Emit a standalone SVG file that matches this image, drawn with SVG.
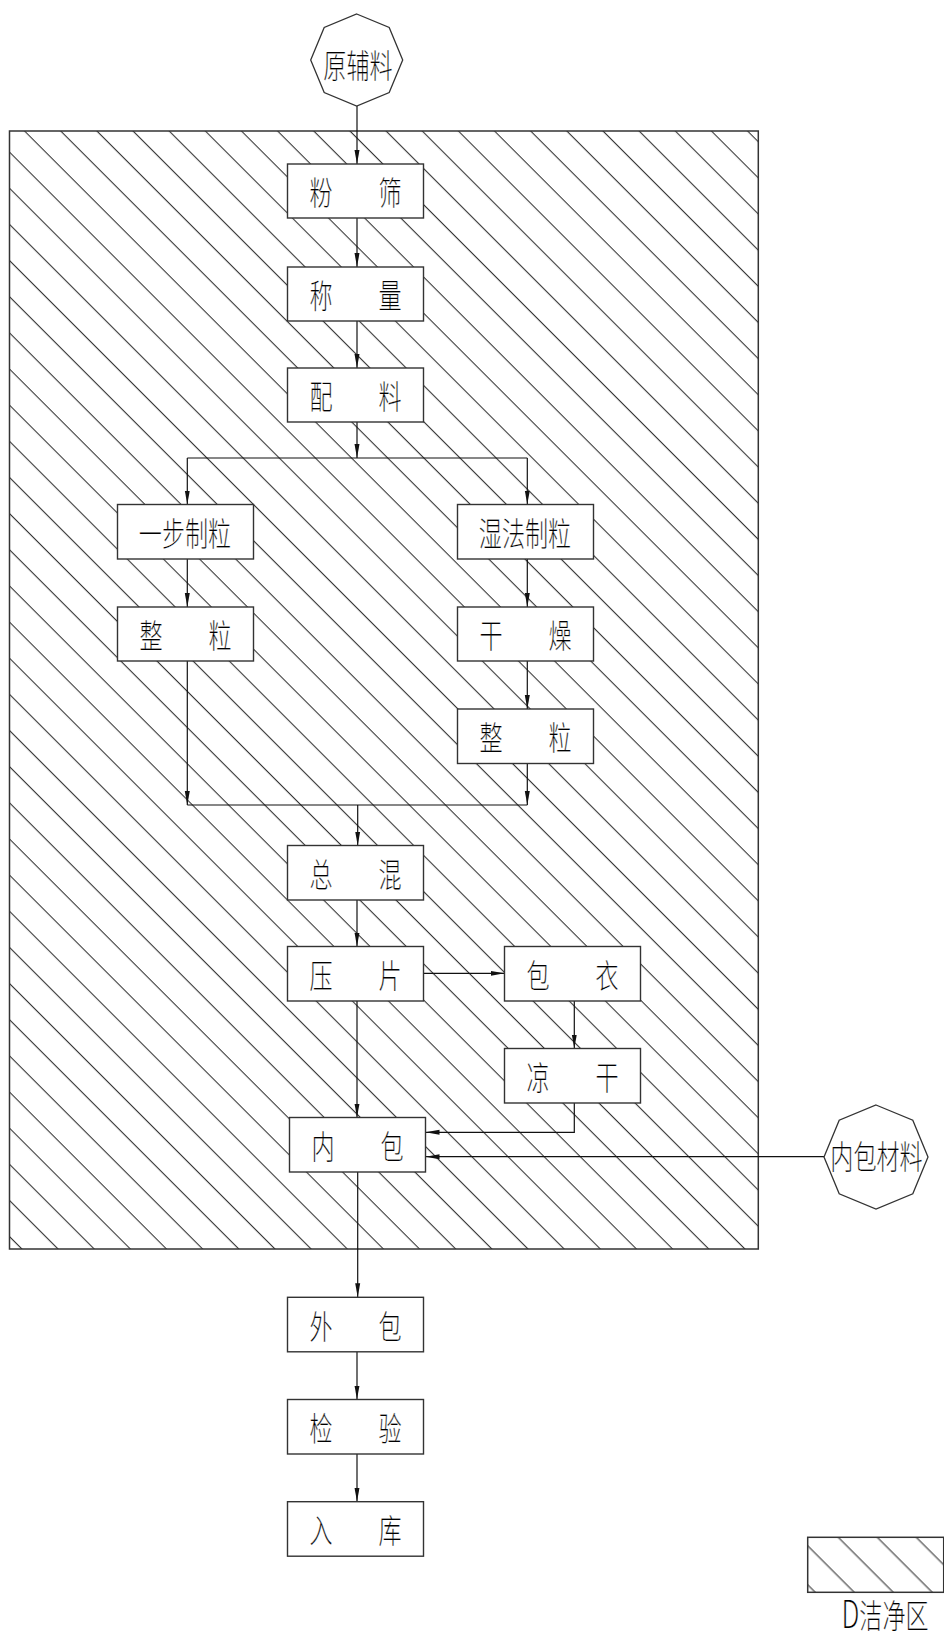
<svg xmlns="http://www.w3.org/2000/svg" width="944" height="1636" viewBox="0 0 944 1636">
<style>
.box{fill:#fff;stroke:#333;stroke-width:1.4}
.oct{fill:#fff;stroke:#333;stroke-width:1.3}
.area{stroke:#333;stroke-width:1.5}
.c{fill:none;stroke:#111;stroke-width:1.2}
.t{font-family:"Noto Sans CJK SC","Noto Sans CJK JP",sans-serif;font-size:33px;font-weight:300;fill:#000;stroke:#fff;stroke-width:0.25;text-anchor:middle}
</style>
<defs>
<pattern id="hatch" patternUnits="userSpaceOnUse" width="25.562" height="20" patternTransform="rotate(-45)">
<rect x="0.88" y="0" width="1" height="20" fill="#222"/>
</pattern>
<pattern id="hatch2" patternUnits="userSpaceOnUse" width="27.58" height="20" patternTransform="rotate(-45)">
<rect x="1.62" y="0" width="1" height="20" fill="#222"/>
</pattern>
<marker id="arr" markerUnits="userSpaceOnUse" markerWidth="15" markerHeight="7" refX="14" refY="3" orient="auto">
<path d="M0,0.5 L14,3 L0,5.5 Z" fill="#111"/>
</marker>
</defs>
<rect width="944" height="1636" fill="#fff"/>
<g id="clean-area">
<rect x="9.5" y="131" width="748.8" height="1118" fill="url(#hatch)"/>
<rect class="area" x="9.5" y="131" width="748.8" height="1118" fill="none"/>
</g>
<g id="connectors">
<path class="c" d="M357,106 V164" marker-end="url(#arr)"/>
<path class="c" d="M357,218 V267" marker-end="url(#arr)"/>
<path class="c" d="M357,321 V368" marker-end="url(#arr)"/>
<path class="c" d="M357,422 V458" marker-end="url(#arr)"/>
<path class="c" d="M187.3,458 H527.3"/>
<path class="c" d="M187.3,458 V504.5" marker-end="url(#arr)"/>
<path class="c" d="M527.3,458 V504.5" marker-end="url(#arr)"/>
<path class="c" d="M187.3,559 V607" marker-end="url(#arr)"/>
<path class="c" d="M527.3,559 V607" marker-end="url(#arr)"/>
<path class="c" d="M527.3,661 V709" marker-end="url(#arr)"/>
<path class="c" d="M187.3,661 V805" marker-end="url(#arr)"/>
<path class="c" d="M527.3,763.5 V805" marker-end="url(#arr)"/>
<path class="c" d="M187.3,805 H527.3"/>
<path class="c" d="M357.7,805 V845.5" marker-end="url(#arr)"/>
<path class="c" d="M357,900 V946.5" marker-end="url(#arr)"/>
<path class="c" d="M423.5,973.3 H504.5" marker-end="url(#arr)"/>
<path class="c" d="M574.3,1001 V1048.5" marker-end="url(#arr)"/>
<path class="c" d="M574.3,1103 V1132.3 H425.5" marker-end="url(#arr)"/>
<path class="c" d="M357,1001 V1117.5" marker-end="url(#arr)"/>
<path class="c" d="M824,1156.7 H425.5" marker-end="url(#arr)"/>
<path class="c" d="M357.7,1172 V1297.3" marker-end="url(#arr)"/>
<path class="c" d="M357,1352 V1399.5" marker-end="url(#arr)"/>
<path class="c" d="M357,1454 V1501.7" marker-end="url(#arr)"/>
</g>
<g id="n-yuanfuliao">
<polygon class="oct" points="356.7,14 389.2,27.5 402.7,60 389.2,92.5 356.7,106 324.2,92.5 310.7,60 324.2,27.5"/>
<text class="t" transform="translate(358,77.5) scale(0.7,1)">原辅料</text>
</g>
<g id="n-fenshai">
<rect class="box" x="287.5" y="164" width="136" height="54"/>
<text class="t" transform="translate(355.5,204.5) scale(0.7,1)"><tspan x="-49.3">粉</tspan><tspan x="49.3">筛</tspan></text>
</g>
<g id="n-chengliang">
<rect class="box" x="287.5" y="267" width="136" height="54"/>
<text class="t" transform="translate(355.5,307.5) scale(0.7,1)"><tspan x="-49.3">称</tspan><tspan x="49.3">量</tspan></text>
</g>
<g id="n-peiliao">
<rect class="box" x="287.5" y="368" width="136" height="54"/>
<text class="t" transform="translate(355.5,408.5) scale(0.7,1)"><tspan x="-49.3">配</tspan><tspan x="49.3">料</tspan></text>
</g>
<g id="n-yibuzhili">
<rect class="box" x="117.5" y="504.5" width="136" height="54.5"/>
<text class="t" transform="translate(185,545.5) scale(0.7,1)">一步制粒</text>
</g>
<g id="n-shifazhili">
<rect class="box" x="457.5" y="504.5" width="136" height="54.5"/>
<text class="t" transform="translate(525,545.5) scale(0.7,1)">湿法制粒</text>
</g>
<g id="n-zhengli-l">
<rect class="box" x="117.5" y="607" width="136" height="54"/>
<text class="t" transform="translate(185.5,647.5) scale(0.7,1)"><tspan x="-49.3">整</tspan><tspan x="49.3">粒</tspan></text>
</g>
<g id="n-ganzao">
<rect class="box" x="457.5" y="607" width="136" height="54"/>
<text class="t" transform="translate(525.5,647.5) scale(0.7,1)"><tspan x="-49.3">干</tspan><tspan x="49.3">燥</tspan></text>
</g>
<g id="n-zhengli-r">
<rect class="box" x="457.5" y="709" width="136" height="54.5"/>
<text class="t" transform="translate(525.5,750) scale(0.7,1)"><tspan x="-49.3">整</tspan><tspan x="49.3">粒</tspan></text>
</g>
<g id="n-zonghun">
<rect class="box" x="287.5" y="845.5" width="136" height="54.5"/>
<text class="t" transform="translate(355.5,886.5) scale(0.7,1)"><tspan x="-49.3">总</tspan><tspan x="49.3">混</tspan></text>
</g>
<g id="n-yapian">
<rect class="box" x="287.5" y="946.5" width="136" height="54.5"/>
<text class="t" transform="translate(355.5,987.5) scale(0.7,1)"><tspan x="-49.3">压</tspan><tspan x="49.3">片</tspan></text>
</g>
<g id="n-baoyi">
<rect class="box" x="504.5" y="946.5" width="136" height="54.5"/>
<text class="t" transform="translate(572.5,987.5) scale(0.7,1)"><tspan x="-49.3">包</tspan><tspan x="49.3">衣</tspan></text>
</g>
<g id="n-lianggan">
<rect class="box" x="504.5" y="1048.5" width="136" height="54.5"/>
<text class="t" transform="translate(572.5,1089.5) scale(0.7,1)"><tspan x="-49.3">凉</tspan><tspan x="49.3">干</tspan></text>
</g>
<g id="n-neibao">
<rect class="box" x="289.5" y="1117.5" width="136" height="54.5"/>
<text class="t" transform="translate(357.5,1158.5) scale(0.7,1)"><tspan x="-49.3">内</tspan><tspan x="49.3">包</tspan></text>
</g>
<g id="n-neibaocailiao">
<polygon class="oct" points="876,1105 912.8,1120.2 928,1157 912.8,1193.8 876,1209 839.2,1193.8 824,1157 839.2,1120.2"/>
<text class="t" transform="translate(876.5,1168.5) scale(0.7,1)">内包材料</text>
</g>
<g id="n-waibao">
<rect class="box" x="287.5" y="1297.3" width="136" height="54.5"/>
<text class="t" transform="translate(355.5,1338.5) scale(0.7,1)"><tspan x="-49.3">外</tspan><tspan x="49.3">包</tspan></text>
</g>
<g id="n-jianyan">
<rect class="box" x="287.5" y="1399.5" width="136" height="54.5"/>
<text class="t" transform="translate(355.5,1440.5) scale(0.7,1)"><tspan x="-49.3">检</tspan><tspan x="49.3">验</tspan></text>
</g>
<g id="n-ruku">
<rect class="box" x="287.5" y="1501.7" width="136" height="54.5"/>
<text class="t" transform="translate(355.5,1542.5) scale(0.7,1)"><tspan x="-49.3">入</tspan><tspan x="49.3">库</tspan></text>
</g>
<g id="legend">
<rect x="807.7" y="1537.3" width="136" height="55" fill="url(#hatch2)"/>
<rect class="area" x="807.7" y="1537.3" width="136" height="55" fill="none"/>
<text class="t" transform="translate(885,1628) scale(0.7,1)"><tspan font-size="38">D</tspan>洁净区</text>
</g>
</svg>
